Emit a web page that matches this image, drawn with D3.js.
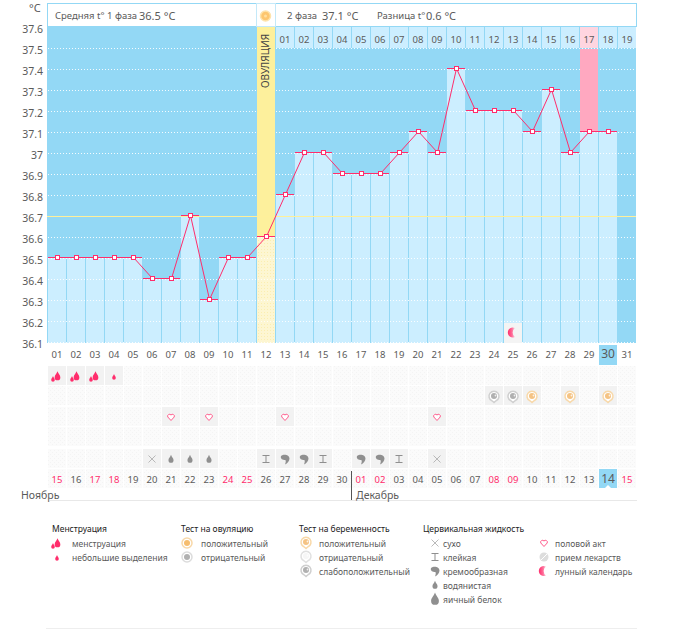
<!DOCTYPE html>
<html>
<head>
<meta charset="utf-8">
<script src="https://cdnjs.cloudflare.com/ajax/libs/d3/7.8.5/d3.min.js"></script>
<style>
html, body { margin: 0; padding: 0; background: #fff; }
svg { display: block; }
text { font-family: "Noto Sans", sans-serif; fill: #5a5a5a; }
</style>
</head>
<body>
<svg id="chart"></svg>
<script>
const days = d3.range(1, 32).map(d => d3.format("02")(d));
const dates = ["15","16","17","18","19","20","21","22","23","24","25","26","27","28","29","30",
    "01","02","03","04","05","06","07","08","09","10","11","12","13","14","15"];
const weekends = ["17","18","24","25","01","02","08","09","15"];
const phase2Days = ["01","02","03","04","05","06","07","08","09","10","11","12","13","14","15","16","17","18","19"];
const temps = [36.5,36.5,36.5,36.5,36.5,36.4,36.4,36.7,36.3,36.5,36.5,36.6,36.8,37.0,37.0,36.9,36.9,36.9,37.0,37.1,37.0,37.4,37.2,37.2,37.2,37.1,37.3,37.0,37.1,37.1];
const tempTicks = [37.6,37.5,37.4,37.3,37.2,37.1,37,36.9,36.8,36.7,36.6,36.5,36.4,36.3,36.2,36.1];
const coverLine = 36.7;
const ovulationDay = 12;
const peakDay = 29;
const todayDay = 30;
const moonDay = 25;

const menses = [[1,"big"],[2,"big"],[3,"big"],[4,"small"]];
const tests = [[24,"weak"],[25,"weak"],[26,"pos"],[28,"pos"],[30,"pos"]];
const sex = [7,9,13,21];
const fluid = [[6,"dry"],[7,"water"],[8,"water"],[9,"water"],[12,"sticky"],[13,"cream"],[14,"cream"],[15,"sticky"],[17,"cream"],[18,"cream"],[19,"sticky"],[21,"dry"]];

const width = 675, height = 629;
const svg = d3.select("#chart").attr("width", width).attr("height", height);

const x = d3.scaleBand().domain(d3.range(1, 32)).range([47, 636]).paddingInner(0);
const y = d3.scaleLinear().domain([36.1, 37.6]).range([342, 27]);
const rowY = d3.scaleOrdinal().domain([0,1,2,3,4,5]).range([366,386,407,427,449,469]);
const cx = d => x(d) + 10;
const py = t => y(t) - 0.5;

const blue = "#93d8f5", pale = "#cceeff", pink = "#ff2d6c", grey = "#8f8f8f";

// ------------------- Patterns -------------------
const defs = svg.append("defs");
const weave = defs.append("pattern").attr("id", "weave").attr("width", 4).attr("height", 4).attr("patternUnits", "userSpaceOnUse");
weave.append("rect").attr("width", 4).attr("height", 4).attr("fill", "#fbfbfb");
weave.append("rect").attr("x", 0).attr("y", 0).attr("width", 1).attr("height", 1).attr("fill", "#f4f4f4");
weave.append("rect").attr("x", 2).attr("y", 2).attr("width", 1).attr("height", 1).attr("fill", "#f4f4f4");
const hatch = defs.append("pattern").attr("id", "hatch").attr("width", 3).attr("height", 3).attr("patternUnits", "userSpaceOnUse");
hatch.append("rect").attr("width", 3).attr("height", 3).attr("fill", "#fdf6d2");
hatch.append("rect").attr("width", 1).attr("height", 1).attr("fill", "#fbeeb0");
const moonFade = defs.append("linearGradient").attr("id", "moonFade");
moonFade.append("stop").attr("offset", "0%").attr("stop-color", pink);
moonFade.append("stop").attr("offset", "60%").attr("stop-color", "#ff6f9a");
moonFade.append("stop").attr("offset", "100%").attr("stop-color", "#f6dbe4");

// ------------------- Plot background -------------------
const plot = svg.append("g");
plot.append("rect").attr("x", 47).attr("y", y(37.6)).attr("width", 589).attr("height", y(36.1) - y(37.6) + 1).attr("fill", blue);

// bars
const barData = temps.map((t, i) => ({ day: i + 1, t }));
plot.selectAll("rect.bar").data(barData).join("rect")
    .attr("class", "bar")
    .attr("x", d => x(d.day) + 1)
    .attr("width", x.bandwidth() - 1)
    .attr("y", d => py(d.t))
    .attr("height", d => y(36.1) + 1 - py(d.t))
    .attr("fill", d => d.day === ovulationDay ? "url(#hatch)" : pale);

// grid
plot.selectAll("line.grid").data(tempTicks.slice(1)).join("line")
    .attr("class", "grid")
    .attr("x1", 48).attr("x2", 636)
    .attr("y1", d => y(d) + 0.5).attr("y2", d => y(d) + 0.5)
    .attr("stroke", "#fff").attr("stroke-dasharray", "1,2").attr("opacity", 0.9);

// ovulation and peak columns sit over the grid
plot.append("rect").attr("x", x(ovulationDay) + 1).attr("width", 18).attr("y", 27).attr("height", py(36.6) - 27).attr("fill", "#fdf09c");
plot.append("rect").attr("x", x(peakDay) + 1).attr("width", 18).attr("y", 49).attr("height", py(37.1) - 49).attr("fill", "#ffa8c0");

// cover line
plot.append("line").attr("x1", 47).attr("x2", 636)
    .attr("y1", y(coverLine) + 0.5).attr("y2", y(coverLine) + 0.5)
    .attr("stroke", "#fff09a");

// ------------------- Header -------------------
const head = svg.append("g");
head.append("rect").attr("x", 47.5).attr("y", 3.5).attr("width", 589).attr("height", 23).attr("fill", "#fff").attr("stroke", blue);
head.append("rect").attr("x", x(ovulationDay) + 0.5).attr("y", 3.5).attr("width", 19).attr("height", 23).attr("fill", "#fff").attr("stroke", "#c4e9f9");
head.append("circle").attr("cx", cx(ovulationDay) - 0.5).attr("cy", 16).attr("r", 5).attr("fill", "#fdc66f").attr("stroke", "#fde3ac").attr("stroke-width", 1.5);
head.append("circle").attr("cx", cx(ovulationDay) - 0.5).attr("cy", 16).attr("r", 1.5).attr("fill", "#ffdf9f");
head.append("text").attr("x", 55).attr("y", 19).attr("font-size", 9.5).text("Средняя t° 1 фаза");
head.append("text").attr("x", 139).attr("y", 20).attr("font-size", 11).text("36.5 °C");
head.append("text").attr("x", 287).attr("y", 19).attr("font-size", 9.5).text("2 фаза");
head.append("text").attr("x", 322).attr("y", 20).attr("font-size", 11).text("37.1 °C");
head.append("text").attr("x", 377).attr("y", 19).attr("font-size", 9.5).text("Разница t°");
head.append("text").attr("x", 426).attr("y", 20).attr("font-size", 11).text("0.6 °C");

// second phase day strip
const stripDays = d3.range(ovulationDay + 1, 32);
head.selectAll("rect.strip").data(stripDays).join("rect")
    .attr("class", "strip")
    .attr("x", d => x(d) + 1).attr("y", 27).attr("width", 18).attr("height", 21)
    .attr("fill", d => d === peakDay ? "#ffd5e0" : pale);
head.selectAll("text.strip").data(stripDays).join("text")
    .attr("class", "strip")
    .attr("x", d => cx(d)).attr("y", 43)
    .attr("text-anchor", "middle").attr("font-size", 9.5)
    .text((d, i) => phase2Days[i]);

// ovulation label
svg.append("text")
    .attr("transform", `translate(${cx(ovulationDay) + 3},88) rotate(-90)`)
    .attr("font-size", 10).style("fill", "#444")
    .text("ОВУЛЯЦИЯ");

// ------------------- Axes -------------------
const yAxis = d3.axisLeft(y).tickValues(tempTicks).tickSize(0).tickPadding(4)
    .tickFormat(d => d === 37 ? "37" : d3.format(".1f")(d));
const yG = svg.append("g").attr("transform", "translate(47,2)").call(yAxis);
yG.select(".domain").remove();
yG.selectAll("text").attr("font-size", 10.5);
svg.append("text").attr("x", 29).attr("y", 12).attr("font-size", 11).text("°C");

// ------------------- Calendar rows -------------------
const cal = svg.append("g");
[0,1,2,3,4,5].forEach(r => {
    cal.selectAll(null).data(d3.range(1, 32)).join("rect")
        .attr("x", d => x(d) + 1).attr("y", rowY(r)).attr("width", 18).attr("height", 19)
        .attr("fill", "url(#weave)");
});

// today highlight
cal.append("rect").attr("x", x(todayDay) + 1).attr("y", 345).attr("width", 18).attr("height", 20).attr("fill", blue);
cal.append("rect").attr("x", x(todayDay) + 1).attr("y", 469).attr("width", 18).attr("height", 19).attr("fill", blue);
cal.append("path").attr("d", d3.line()([[cx(todayDay) - 3, 488], [cx(todayDay), 485], [cx(todayDay) + 3, 488]])).attr("fill", "#fff");

cal.selectAll("text.day").data(days).join("text")
    .attr("class", "day")
    .attr("x", (d, i) => cx(i + 1)).attr("y", 358)
    .attr("text-anchor", "middle")
    .attr("font-size", (d, i) => i + 1 === todayDay ? 12 : 9.5)
    .text(d => d);

cal.selectAll("text.date").data(dates).join("text")
    .attr("class", "date")
    .attr("x", (d, i) => cx(i + 1)).attr("y", 483)
    .attr("text-anchor", "middle")
    .attr("font-size", (d, i) => i + 1 === todayDay ? 12 : 9.5)
    .style("fill", (d, i) => weekends.includes(d) && i !== todayDay - 1 ? pink : "#5a5a5a")
    .text(d => d);

cal.append("line").attr("x1", 50).attr("x2", 637).attr("y1", 500.5).attr("y2", 500.5).attr("stroke", "#e8e8e8");
cal.append("line").attr("x1", x(17) + 0.5).attr("x2", x(17) + 0.5).attr("y1", 471).attr("y2", 500).attr("stroke", "#555");
cal.append("text").attr("x", 21).attr("y", 499).attr("font-size", 10.5).text("Ноябрь");
cal.append("text").attr("x", 356).attr("y", 499).attr("font-size", 10.5).text("Декабрь");

// ------------------- Icons -------------------
const drop = (g, px, cy, s, fill) => g.append("path")
    .attr("transform", `translate(${px},${cy}) scale(${s})`)
    .attr("d", "M0,-5 C1,-2 3,-1 3,1.5 A3,3 0 0 1 -3,1.5 C-3,-1 -1,-2 0,-5Z")
    .attr("fill", fill);
const heart = (g, px, cy) => g.append("path")
    .attr("transform", `translate(${px},${cy})`)
    .attr("d", "M0,3.5 L-3.2,0 A1.9,1.9 0 0 1 0,-2 A1.9,1.9 0 0 1 3.2,0 Z")
    .attr("fill", "#fff").attr("stroke", "#ff5c8c").attr("stroke-width", 1);
const cell = (d, r) => cal.append("rect").attr("x", x(d) + 1).attr("y", rowY(r)).attr("width", 18).attr("height", 19).attr("fill", "#f2f2f2");
const comma = (g, px, cy, s) => g.append("path")
    .attr("transform", `translate(${px},${cy}) scale(${s})`)
    .attr("d", "M-4,-3 C-1,-5.5 4.5,-4 4.5,-0.5 C4.5,2 2.5,4.5 0,5.5 C1,3 1,1 0,1 C-2,1 -5,0 -4,-3Z")
    .attr("fill", grey);
const sticky = (g, px, cy) => g.append("path")
    .attr("transform", `translate(${px},${cy})`)
    .attr("d", "M-3.5,-3.5H3.5M0,-3.5V3.5M-3.5,3.5H3.5")
    .attr("stroke", grey).attr("fill", "none");
const cross = (g, px, cy) => g.append("path")
    .attr("transform", `translate(${px},${cy})`)
    .attr("d", "M-3.5,-3.5L3.5,3.5M-3.5,3.5L3.5,-3.5")
    .attr("stroke", "#a8a8a8").attr("fill", "none").attr("stroke-width", 0.8);
const testIcon = (g, px, cy, col, inner) => {
    g.append("path").attr("transform", `translate(${px},${cy})`)
        .attr("d", "M0,6.5 L-2,4.8 A5,5 0 1 1 2,4.8 Z")
        .attr("fill", "#fff").attr("stroke", col).attr("stroke-width", 1.5);
    g.append("circle").attr("cx", px).attr("cy", cy).attr("r", 3).attr("fill", inner);
    g.append("circle").attr("cx", px + 1.5).attr("cy", cy - 0.5).attr("r", 0.9).attr("fill", "#fff").attr("opacity", 0.8);
};
const testColor = { pos: ["#f8d8a8", "#f5c383"], weak: ["#cfcfcf", "#b0b0b0"], neg: ["#e0e0e0", "#f6f6f6"] };
const mensIcon = (g, px, cy, kind) => {
    if (kind === "big") {
        drop(g, px + 0.5, cy, 0.95, pink);
        drop(g, px - 4, cy + 3, 0.6, pink);
    } else {
        drop(g, px, cy + 1, 0.6, pink);
    }
};
const moon = (g, px, cy) => g.append("path")
    .attr("transform", `translate(${px},${cy})`)
    .attr("d", "M2,-4.5 A5,5 0 1 0 2,4.5 A5.5,5.5 0 0 1 2,-4.5Z")
    .attr("fill", "url(#moonFade)");

menses.forEach(([d, k]) => { cell(d, 0); mensIcon(cal, cx(d), rowY(0) + 10, k); });
tests.forEach(([d, k]) => { cell(d, 1); testIcon(cal, cx(d), rowY(1) + 10, testColor[k][0], testColor[k][1]); });
sex.forEach(d => { cell(d, 2); heart(cal, cx(d), rowY(2) + 10); });
fluid.forEach(([d, k]) => {
    cell(d, 4);
    const cy = rowY(4) + 10;
    if (k === "dry") cross(cal, cx(d), cy);
    if (k === "water") drop(cal, cx(d), cy, 0.85, grey);
    if (k === "sticky") sticky(cal, cx(d), cy);
    if (k === "cream") comma(cal, cx(d), cy, 1);
});

// moon cell sits in the chart
plot.append("rect").attr("x", x(moonDay) + 1).attr("y", 323).attr("width", 18).attr("height", 20).attr("fill", "#f4f4f4");
moon(plot, cx(moonDay), 332.5);

// ------------------- Temperature line -------------------
const line = d3.line().x(d => cx(d.day) + 0.5).y(d => py(d.t));
const marks = svg.append("g");
marks.selectAll("line.cap").data(barData).join("line")
    .attr("class", "cap")
    .attr("x1", d => x(d.day) + 1).attr("x2", d => x(d.day) + 19)
    .attr("y1", d => py(d.t)).attr("y2", d => py(d.t))
    .attr("stroke", pink);
marks.append("path").datum(barData).attr("d", line).attr("fill", "none").attr("stroke", pink).attr("stroke-width", 1);
marks.selectAll("rect.pt").data(barData).join("rect")
    .attr("class", "pt")
    .attr("x", d => cx(d.day) - 1.5).attr("y", d => py(d.t) - 2)
    .attr("width", 4).attr("height", 4)
    .attr("fill", "#fff").attr("stroke", pink);

// ------------------- Legend -------------------
const leg = svg.append("g");
const legendHeads = [["Менструация", 52], ["Тест на овуляцию", 181], ["Тест на беременность", 299], ["Цервикальная жидкость", 423]];
const legendMens = ["менструация", "небольшие выделения"];
const legendOvul = ["положительный", "отрицательный"];
const legendPreg = ["положительный", "отрицательный", "слабоположительный"];
const legendFluid = ["сухо", "клейкая", "кремообразная", "водянистая", "яичный белок"];
const legendOther = ["половой акт", "прием лекарств", "лунный календарь"];
const legRow = i => 545 + i * 14;

leg.selectAll("text.head").data(legendHeads).join("text")
    .attr("class", "head").attr("x", d => d[1]).attr("y", 532)
    .attr("font-size", 8.5).style("fill", "#222").text(d => d[0]);
const legendColumn = (labels, tx) => leg.selectAll(null).data(labels).join("text")
    .attr("x", tx).attr("y", (d, i) => legRow(i) + 1.5).attr("font-size", 8.5).text(d => d);
legendColumn(legendMens, 72);
legendColumn(legendOvul, 201);
legendColumn(legendPreg, 319);
legendColumn(legendFluid, 443);
legendColumn(legendOther, 555);

mensIcon(leg, 57, legRow(0) - 2, "big");
mensIcon(leg, 57, legRow(1) - 2, "small");
[["#f8d8a8", "#f6bd6e"], ["#dcdcdc", "#b0b0b0"]].forEach((c, i) => {
    leg.append("circle").attr("cx", 187).attr("cy", legRow(i) - 2).attr("r", 5).attr("fill", "#fff").attr("stroke", c[0]).attr("stroke-width", 1.5);
    leg.append("circle").attr("cx", 187).attr("cy", legRow(i) - 2).attr("r", 3).attr("fill", c[1]);
});
testIcon(leg, 306, legRow(0) - 3, testColor.pos[0], testColor.pos[1]);
testIcon(leg, 306, legRow(1) - 3, testColor.neg[0], testColor.neg[1]);
testIcon(leg, 306, legRow(2) - 3, testColor.weak[0], testColor.weak[1]);
cross(leg, 435, legRow(0) - 2);
sticky(leg, 435, legRow(1) - 2);
comma(leg, 435, legRow(2) - 2, 1);
drop(leg, 435, legRow(3) - 2, 0.85, grey);
drop(leg, 435, legRow(4) - 2, 1.3, grey);
heart(leg, 544, legRow(0) - 2);
leg.append("circle").attr("cx", 544).attr("cy", legRow(1) - 2).attr("r", 4.5).attr("fill", "#ddd");
leg.append("line").attr("x1", 541).attr("x2", 547).attr("y1", legRow(1) + 1).attr("y2", legRow(1) - 5).attr("stroke", "#fff");
moon(leg, 544, legRow(2) - 2);
leg.append("line").attr("x1", 46).attr("x2", 637).attr("y1", 628.5).attr("y2", 628.5).attr("stroke", "#eee");
</script>
</body>
</html>
